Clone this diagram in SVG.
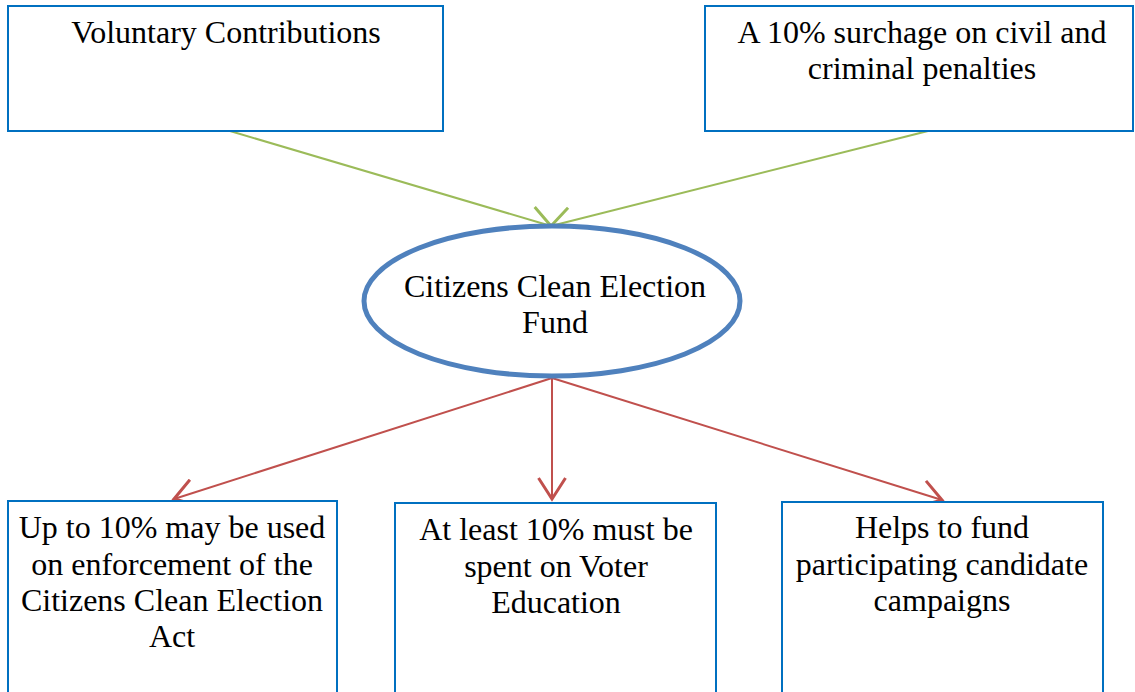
<svg xmlns="http://www.w3.org/2000/svg" width="1135" height="692" viewBox="0 0 1135 692">
<style>
.box{fill:#fff;stroke:#0070C0;stroke-width:2}
.t{font-family:"Liberation Serif","Times New Roman",serif;font-size:32px;fill:#000;text-anchor:middle}
.g{stroke:#9BBB59;stroke-width:2;fill:none}
.r{stroke:#C0504D;stroke-width:2;fill:none}
</style>
<defs>
<marker id="ag" markerUnits="userSpaceOnUse" markerWidth="30" markerHeight="30" refX="16" refY="10" orient="auto" viewBox="0 0 20 20">
<path d="M2,1 L16,10 L2,19" fill="none" stroke="#9BBB59" stroke-width="2"/>
</marker>
<marker id="ar" markerUnits="userSpaceOnUse" markerWidth="30" markerHeight="30" refX="16" refY="10" orient="auto" viewBox="0 0 20 20">
<path d="M2,1 L16,10 L2,19" fill="none" stroke="#C0504D" stroke-width="2"/>
</marker>
</defs>
<rect width="1135" height="692" fill="#fff"/>
<g id="connectors">
<line class="g" x1="230" y1="131" x2="551" y2="226" marker-end="url(#ag)"/>
<line class="g" x1="928" y1="131" x2="551" y2="226" marker-end="url(#ag)"/>
<line class="r" x1="552" y1="378" x2="174" y2="499" marker-end="url(#ar)"/>
<line class="r" x1="552" y1="378" x2="552" y2="499" marker-end="url(#ar)"/>
<line class="r" x1="552" y1="378" x2="942" y2="500" marker-end="url(#ar)"/>
</g>
<g id="voluntary">
<rect class="box" x="8" y="6" width="435" height="125"/>
<text class="t" x="226" y="43">Voluntary Contributions</text>
</g>
<g id="surcharge">
<rect class="box" x="705" y="6" width="428" height="125"/>
<text class="t" x="922" y="43">A 10% surchage on civil and</text>
<text class="t" x="922" y="79">criminal penalties</text>
</g>
<g id="fund">
<ellipse cx="552" cy="301" rx="188" ry="75" fill="#fff" stroke="#4F81BD" stroke-width="5"/>
<text class="t" x="555" y="297">Citizens Clean Election</text>
<text class="t" x="555" y="333">Fund</text>
</g>
<g id="enforcement">
<rect class="box" x="8" y="501" width="329" height="200"/>
<text class="t" x="172" y="538">Up to 10%  may be used</text>
<text class="t" x="172" y="575">on enforcement of the</text>
<text class="t" x="172" y="611">Citizens Clean Election</text>
<text class="t" x="172" y="647">Act</text>
</g>
<g id="education">
<rect class="box" x="395" y="503" width="321" height="200"/>
<text class="t" x="556" y="540">At least 10% must be</text>
<text class="t" x="556" y="577">spent on Voter</text>
<text class="t" x="556" y="613">Education</text>
</g>
<g id="campaigns">
<rect class="box" x="782" y="502" width="321" height="200"/>
<text class="t" x="942" y="538">Helps to fund</text>
<text class="t" x="942" y="575">participating candidate</text>
<text class="t" x="942" y="611">campaigns</text>
</g>
</svg>
